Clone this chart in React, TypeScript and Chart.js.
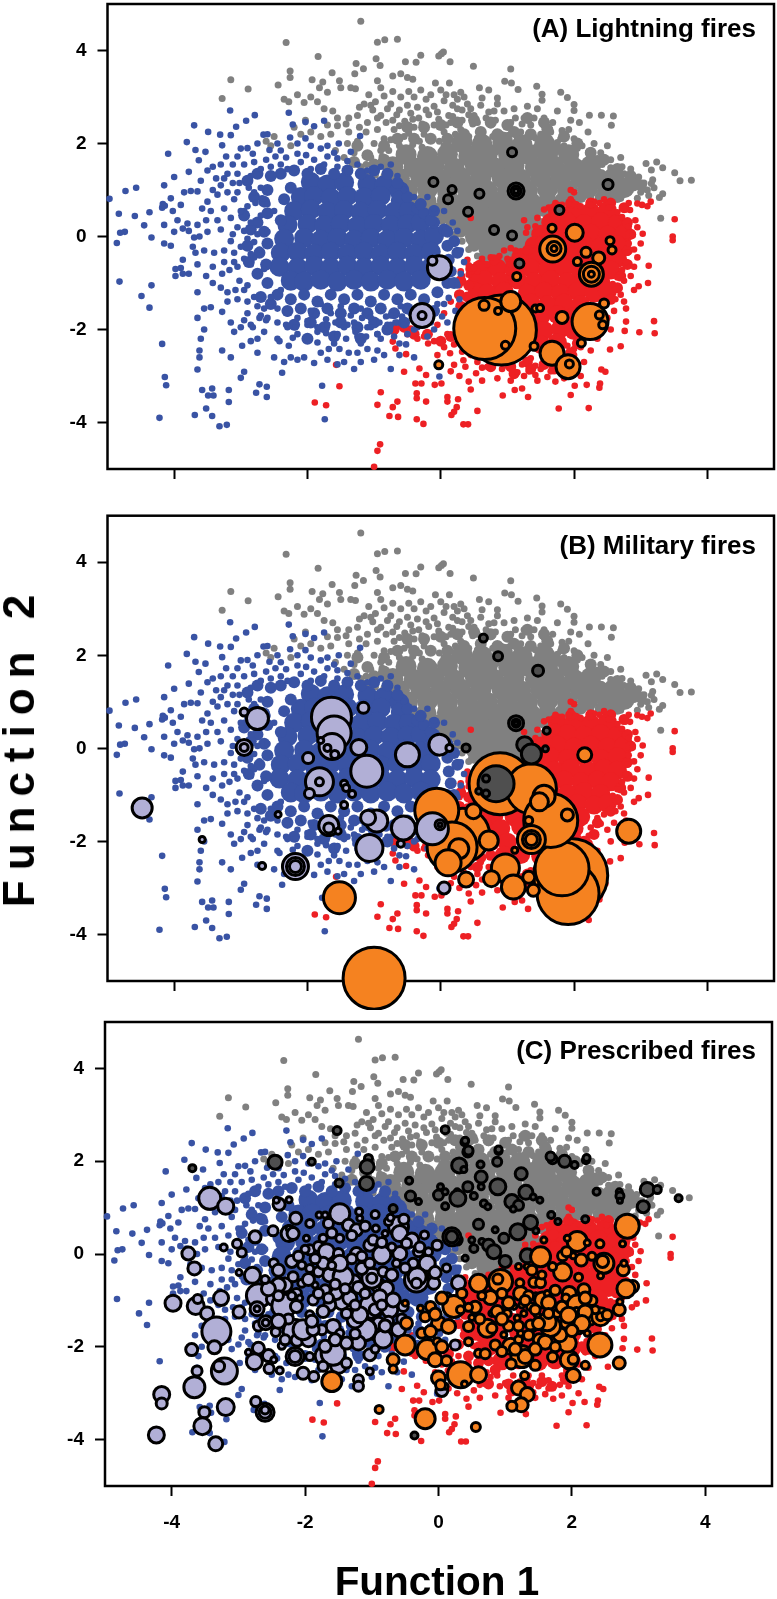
import React, { useEffect, useRef } from "react";
import { Chart, registerables } from "chart.js";
Chart.register(...registerables);

const tickValues = [-4, -2, 0, 2, 4];
const panelTitles = ["(A) Lightning fires", "(B) Military fires", "(C) Prescribed fires"];
const xTitle = "Function 1";
const yTitle = "Function 2";

const grayCore = [.32,2.02,.62,1.98,.93,2.03,1.22,1.97,1.56,1.99,-.52,1.76,-.2,1.72,.1,1.77,.42,1.73,.7,1.78,1.02,1.74,1.31,1.77,1.6,1.74,1.92,1.76,-.72,1.5,-.4,1.48,-.1,1.52,.2,1.47,.52,1.51,.8,1.48,1.1,1.52,1.42,1.48,1.7,1.51,2,1.48,2.25,1.52,-.62,1.25,-.3,1.27,0,1.23,.3,1.27,.6,1.24,.92,1.26,1.2,1.23,1.5,1.27,1.8,1.24,2.1,1.27,2.38,1.23,2.6,1.27,-.5,1,-.2,1.02,.1,.98,.4,1.02,.7,.98,1,1.02,1.3,.98,1.6,1.02,1.9,.99,2.2,1.03,2.5,.98,2.75,1.05,-.22,.75,.1,.77,.35,.73,.6,.77,.85,.73,1.1,.77,1.35,.73,1.6,.72,.1,.5,.35,.52,.6,.48,.85,.52,1.1,.48,1.35,.5,.32,.25,.55,.27,.8,.23,1.05,.27,1.3,.25,.52,0,.75,.03,1,-.02,1.25,.03,.72,-.25,.95,-.23,1.15,-.27,.86,-.45,1];
const grayMid = [-1.3,1.6,-1.1,1.75,-1.25,1.95,-1,1.55,-.85,1.65,-1.15,1.35,-.85,1.95,-.65,2.1,-.4,2.1,-.15,2.1,.1,2.1,.35,2.2,.6,2.25,.85,2.2,1.1,2.25,1.35,2.2,1.6,2.3,1.85,2.15,2.05,2,2.25,1.8,2.45,1.65,-.5,2.35,-.25,2.35,0,2.4,.25,2.45,.5,2.5,.75,2.45,1,2.4,1.3,2.55,1.55,2.45,2.65,1.45,2.85,1.3,3,1.1,2.85,1.1,2.55,1.2,-.45,.8,-.05,.6,.15,.35,.3,.1,.5,-.2,.65,-.45,.95,-.5,1.15,-.15,1.25,.2,1.45,.3,1.55,.55,1.8,.8,2.1,.85,2.4,.85,2.65,.85,-.85,1.2,-.7,1.1,.15,1.88,.55,1.88,.85,1.88,1.15,1.88,1.45,1.88,1.75,1.88];
const graySparse = [-1.2,4.63,-2.32,4.17,-.95,4.18,-.84,4.23,-.65,4.24,-1.84,3.87,.01,3.93,.04,3.97,-.03,3.88,.14,3.76,-.3,3.9,-.37,3.75,-.53,3.76,-.97,3.82,-.91,3.68,-1.27,3.72,-1.16,3.61,-1.29,3.5,.49,3.66,1.05,3.6,-2.26,3.56,-2.26,3.42,-1.63,3.52,-1.93,3.37,-1.77,3.32,-3.15,3.37,-2.89,3.17,-3.28,2.97,-2.44,3.26,.96,3.34,1.06,3.3,1.16,3.16,1.44,3.23,1.52,3.06,1.52,2.93,1.8,3.1,1.9,2.99,2,2.84,2,2.71,2.23,2.61,2.41,2.61,2.59,2.59,2.56,2.39,2.21,2.25,3.76,1.21,3.59,1.2,3.51,1.37,3.33,1.48,3.24,1.6,3.08,1.57,3.16,1.43,3.3,.39,3.33,.92,3.28,.84,3.16,1.14,2.97,1.28,
-.72,3.45,-.6,3.5,-.5,3.42,-.42,3.38,-.95,3.35,-.9,3.2,-1.08,3.05,-1.52,3.35,-1.5,3.2,-1.35,3.2,-1.28,3.18,-1.82,3.2,-1.7,3.1,-1.95,3,-2.15,3.05,-2.28,2.9,-2.35,2.95,-2.05,2.88,-1.85,2.9,-1.75,2.75,-1.62,2.7,-1.55,2.55,-1.25,2.6,-1.15,2.85,-.98,2.9,-.9,2.6,-.8,2.75,-.72,2.5,-.6,3,-.62,2.72,-.45,2.65,-.33,2.55,-.3,3.15,-.22,2.95,-.08,3.3,0,3.15,.13,3.3,.2,3.05,.3,3.1,.35,3,.4,2.85,.25,2.75,.12,2.6,-.1,2.8,.5,2.6,.72,3.15,.58,3.2,.85,2.85,.8,2.7,.95,2.7,1.1,2.75,1.3,2.8,1.25,2.55,1.45,2.75,1.55,2.55,1.75,2.7,1.68,2.45,1.95,2.5,1.92,2.3,2.08,2.45,
-1.1,2.45,-1.22,2.35,-1.38,2.25,-1.55,2.38,-1.7,2.4,-2.03,2.5,-2.2,2.35,-2.5,2.15,-2.62,2.05,-2.55,1.95,-2.25,1.95,-2.1,2.2,-1.95,2.25,-1.8,2.15,-1.65,2.2,-1.4,2,-1.25,2.05,-1.12,2.25,-.95,2.3,-.85,2.1,-.7,2.3,-.55,2.15,-.4,2.35,-.25,2.2,-.1,2.4,.05,2.25,.15,2.45,.3,2.3,.48,2.42,.6,2.25,.75,2.4,.9,2.2,1.05,2.45,1.2,2.25,1.35,2.4,1.5,2.2,1.65,2.25,1.8,2.1,2,2.1,2.12,1.95,2.3,2,2.4,1.8,2.5,1.95,2.55,1.65,2.7,1.7,2.72,1.5,2.85,1.45,2.95,1.2,3.05,1.15,2.9,1.05,3.1,1,3.2,1.05,-1,2,-.9,1.85,-1.05,1.7,-1.3,1.8,-1.45,1.7,-1.58,1.85,-1.2,1.5,-1,1.45,-.9,1.6,-.85,1.3,-.95,1.15,-1.12,1.3,
-1.02,2.72,-.95,2.55,-.82,2.45,-.66,2.62,-.54,2.48,-.42,2.52,-.28,2.42,-.18,2.62,-.03,2.52,.08,2.4,.18,2.58,.32,2.5,.42,2.62,.55,2.45,.68,2.55,.82,2.5,.98,2.42,1.12,2.55,1.22,2.42,1.4,2.55,1.55,2.38,1.62,2.12,1.82,2.28,1.75,2.02,-.75,2.85,-.5,2.82,-.35,2.78,-.22,2.72,-.05,2.68,.05,2.92,.18,2.82,.32,2.72,.45,2.75,.6,2.82,.72,2.68,.62,2.98,.85,2.98,.25,2.95,.08,3.05,-.15,3.05,-.4,3,-.48,3.12,-.85,3.02,-.72,3.12,-1.05,2.82,-1.22,2.78,-1.38,2.55,-1.42,2.42,-.62,2.38,-.48,2.22,-.32,2.05,-.15,2.12,-.02,2.05,.12,2.12,.22,2.2,.42,2.15,.55,2.12,.78,2.15,1.02,2.18,1.15,2.12,1.3,2.15,1.42,2.12,-.75,2.08,-.62,1.95,-.42,1.98,-.28,1.92,.05,1.95,.18,1.92,1.85,1.95,2.05,1.9,2.22,1.82,2.35,1.68,2.42,1.55,2.55,1.48,2.62,1.42,2.75,1.35,2.85,1.25,2.92,1.1,2.82,.95,3,.95,3.12,.88,2.95,.82,3.18,1.22,3.05,1.02,
-.88,1.72,-.78,1.85,-1.12,1.55,-.98,1.32,-.82,1.45,-.78,1.12,-.68,.95,-.55,.82,-.42,.72,-.3,.62,-.18,.55,-.05,.45,.02,.32,.12,.22,.22,.05,.32,-.1,.42,-.28,.55,-.42,.62,-.55,.72,-.6,.85,-.68,.95,-.62,1.08,-.55,1.18,-.42,1.28,-.22,1.42,-.05,1.5,.12,1.58,.3,1.65,.45,1.72,.58,1.85,.72,2.05,.82,2.25,.85,2.5,.78,2.7,.82];

const blueCore = [-1.95,1.17,-1.7,1.12,-1.45,1.16,-1.1,1.13,-.85,1.1,-.62,.98,-2.1,.85,-1.9,.87,-1.65,.83,-1.4,.87,-1.15,.84,-.9,.87,-.6,.78,-2.2,.55,-1.95,.58,-1.7,.53,-1.45,.57,-1.2,.53,-.95,.57,-.7,.53,-.48,.55,-2.3,.25,-2,.27,-1.75,.24,-1.5,.27,-1.25,.23,-1,.27,-.75,.24,-.5,.27,-.3,.3,-2.35,-.05,-2.05,-.03,-1.8,-.07,-1.55,-.03,-1.3,-.07,-1.05,-.03,-.8,-.07,-.55,-.03,-.3,-.07,-.1,.02,-2.4,-.35,-2.15,-.33,-1.9,-.37,-1.65,-.33,-1.4,-.37,-1.15,-.33,-.9,-.37,-.65,-.33,-.4,-.37,-.15,-.33,-2.42,-.65,-2.15,-.67,-1.9,-.63,-1.65,-.67,-1.4,-.63,-1.15,-.67,-.9,-.63,-.65,-.67,-.4,-.63,-.15,-.67,-2.25,-.95,-2.05,-.97,-1.8,-.93,-1.55,-.97,-1.3,-.93,-1.05,-.97,-.8,-.93,-.55,-.97,-.3,-.93];
const blueMid = [-2.6,1,-2.65,.75,-2.6,.5,-2.75,.3,-2.65,.1,-2.6,-.15,-2.72,-.35,-2.62,-.6,-2.75,-.8,-2.6,-1,-2.7,-1.3,-2.55,-1.45,-2.4,1.35,-2.2,1.42,-2,1.35,-1.8,1.45,-1.6,1.35,-1.4,1.42,-1.2,1.35,-1,1.42,-.8,1.35,-.65,1.15,-.5,.85,-.35,.6,-.25,.5,-.1,.3,.05,.15,.1,-.2,.12,-.5,-2.45,-1.25,-2.25,-1.35,-2.05,-1.25,-1.85,-1.4,-1.65,-1.25,-1.45,-1.35,-1.25,-1.25,-1.05,-1.4,-.85,-1.25,-.65,-1.35,-.45,-1.25,-.25,-1.35,-.05,-1.2,.1,-1,-2.3,-1.6,-2.1,-1.55,-1.9,-1.65,-1.7,-1.55,-1.5,-1.65,-1.3,-1.55,-1.1,-1.65,-.9,-1.55,-.7,-1.65,-.5,-1.55,-.3,-1.65,-.1,-1.6,-2.2,-1.9,-1.95,-1.85,-1.75,-1.95,-1.5,-1.85,-1.25,-1.95,-1,-1.85,-.8,-2,-.55,-1.85,-2,-2.2,-1.6,-2.15,-1.2,-2.2,.15,-.75,.2,-1,.25,-.35,.2,-.1,.1,.1,-.15,.35,-.3,.7,-.1,.55,-2.85,.15,-2.9,-.2,-2.88,-.55,-2.95,.45,-2.8,.85,-2.9,1.2,-2.75,1.35,-2.55,1.3,-2.25,1.05,-2.35,.8,-2.4,.35];
const blueSparse = [-4.97,.81,-4.73,.98,-4.57,1.05,-4.83,.49,-4.59,.44,-4.37,.52,-4.74,.1,-4.81,.08,-4.86,-.14,-4.82,-.97,-4.45,.24,-4.34,-.02,-4.49,-1.28,-4.37,-1.53,-4.34,-1.05,-4.18,-2.31,-4.14,-3.02,-4.12,-3.2,-4.22,-3.9,-3.69,-3.84,-3.52,-3.7,-3.43,-3.86,-3.32,-4.08,-3.21,-4.05,-3.58,-3.3,-3.43,-3.27,-3.49,-3.42,-3.41,-3.42,-3.18,-3.3,-3.18,-3.56,-3.65,-2.86,-3,-3.04,-2.95,-2.91,-2.72,-3.18,-2.77,-3.36,-2.61,-3.23,-2.61,-3.45,-2.38,-2.93,-1.78,-3.21,-1.74,-3.93,-4.09,1.78,-3.7,2.39,-3.81,2.03,-4,1.28,-4.15,1.1,-3.78,1.39,-3.68,1.86,-3.63,1.64,-3.53,1.82,-3.49,2.25,-3.31,2.19,-3.28,1.96,-3.15,2.18,-3.07,2.36,-3.16,2.71,-2.92,2.49,-2.79,2.61,-2.66,2.19,-3,1.89,-2.82,1.78,-2.57,1.86,-2.28,2.66,-2.22,2.41,-2.03,2.46,-1.75,2.49,-1.9,2.37,-2.26,2.13,-2.03,2.11,-1.8,1.89,-1.21,2.16,-1.53,2,-2.02,1.75,
-4.18,.62,-4.17,.7,-4.14,.66,-4.05,.82,-4.02,.55,-3.9,.68,-3.85,.95,-3.75,.98,-3.65,.97,-3.6,1.2,-3.95,.35,-4.15,.25,-4,.1,-3.87,.17,-3.78,.12,-3.8,.28,-3.7,-.02,-3.62,0,-3.65,.25,-3.58,.6,-3.5,.75,-3.42,1,-3.37,1.25,-3.3,1.1,-3.2,.95,-3.1,.8,-3.25,.6,-3.35,.35,-3.15,.4,-3.3,.15,-3.05,.2,-3.15,-.1,-3,-.22,-2.9,-.05,-4.15,-.15,-4.05,-.2,-3.72,-.22,-3.68,-.35,-3.87,-.5,-3.9,-.68,-3.98,-.7,-3.98,-.85,-3.87,-.8,-3.78,-.8,-3.65,-.6,-3.52,-.85,-3.42,-1,-3.28,-.8,-3.3,-1.1,-3.17,-.72,-3.05,-.65,-3.02,-.95,-2.95,-1.15,-2.85,-.6,-2.75,-.85,-3.65,-1.2,-3.55,-1.55,-3.45,-1.52,-3.65,-1.75,-3.55,-2,-3.6,-2.2,-3.62,-2.45,-3.62,-2.6,-3.28,-1.62,-3.2,-1.4,-3.05,-1.35,-3.15,-1.85,-3,-1.95,-2.9,-1.65,-2.75,-1.5,-3.28,-2.45,-3.15,-2.6,-3.1,-2.05,-2.98,-2.35,-2.85,-2.25,-2.75,-2.5,-2.65,-2.05,-2.62,-1.8,-2.5,-2.6,-2.45,-1.85,-2.35,-2.7,-2.25,-2.6,-2.15,-2.65,-2.05,-2.6,-1.9,-2.72,-1.8,-2.5,-1.7,-2.65,-1.55,-2.75,-1.45,-2.7,-1.3,-2.85,-1.2,-2.7,-1,-2.65,-.95,-2.45,-.85,-2.55,-.75,-2.85,-.62,-2.55,-.4,-2.6,-.02,-3.01,
-2.9,.65,-2.8,.95,-2.7,1.05,-2.6,.7,-2.85,.3,-2.7,.45,-2.75,.05,-2.6,.1,-2.5,.55,-2.85,1.3,-2.7,1.45,-2.55,1.5,-2.4,1.55,-2.3,1.45,-2.1,1.6,-1.95,1.45,-1.75,1.55,-1.55,1.5,-1.4,1.4,-1.25,1.55,-1.1,1.42,-.9,1.5,-.75,1.55,-.65,1.3,-.55,1,-.4,.85,-.2,.85,-.1,.6,.05,.55,.18,.3,.25,.12,.2,-.1,.3,-.3,.35,-.55,.3,-.8,.25,-1.05,.28,-1.35,.22,-1.6,.1,-1.85,-.1,-2,-.2,-2.15,-.35,-1.95,-.5,-2.1,-.65,-1.85,-.8,-1.9,-.95,-2.1,-1.1,-1.95,-1.25,-2.15,-1.4,-1.9,-1.55,-2.1,-1.7,-1.9,-1.85,-2.05,-2,-1.9,-2.15,-2.1,-2.3,-1.95,-2.45,-2.2,-2.6,-1.75,-2.65,-1.55,-2.8,-1.3,-2.9,-1.05,-2.7,-1.7,-2.55,-1.4,-2.4,-1.15,-2.8,-.45,-2.65,-.7,-2.85,-1.9,-2.75,-2.2,-2.55,-1.3,-2.45,-1.55,-2.3,-1.65,-2.15,-1.75,-1.95,-1.6,-1.8,-1.45,-1.65,-1.65,-1.5,-1.5,-1.35,-1.7,-1.2,-1.55,-1.05,-1.75,-.9,-1.55,-.75,-1.7,-.6,-1.5,-.45,-1.65,-.3,-1.5,-.15,-1.7,-.05,-1.45,-.55,-1.9,-.4,-2,-.75,-1.9,-1.6,-2.3,-1.2,-2.3,-.9,-2.2,
-2.32,-1.9,-2.18,-1.95,-2,-1.82,-1.85,-1.95,-1.72,-1.78,-1.58,-1.85,-1.45,-1.95,-1.3,-1.85,-1.18,-1.75,-1.05,-1.95,-.92,-1.85,-.82,-1.72,-.68,-1.85,-.58,-1.72,-.95,-2.1,-1.12,-2.15,-1.28,-2.05,-1.42,-2.2,-1.55,-2.12,-1.72,-2.08,-1.85,-2.28,-2.22,-2.18,-2.28,-2.35,-2.42,-2.25,-1.68,-2.42,-1.52,-2.42,-1.38,-2.5,-1.25,-2.5,-1.1,-2.42,-.82,-2.05,-.7,-2.15,-.62,-2.3,-.52,-2.32,-.32,-1.92,-.25,-1.75,-.15,-1.85,-.08,-1.62,.02,-1.72,.05,-1.45,.12,-1.32,-.38,-1.8,
-2.95,.55,-2.78,.72,-2.68,.82,-2.95,.12,-2.8,-.12,-2.72,-.28,-2.85,-.38,-2.95,-.48,-3.1,-.35,-2.88,1.05,-3.02,1.15,-3.05,1.35,-3.2,1.35,-3.12,1.55,-2.95,1.55,-2.8,1.6,-2.62,1.65,-2.48,1.72,-2.32,1.7,-2.15,1.78,-1.9,1.65,-1.7,1.72,-1.55,1.68,-1.4,1.62,
-3.35,.9,-3.25,1.25,-3.05,.95,-3,.55,-3.12,.05,-3.25,-.3,-3.1,-.55,-3.25,-.55,-3.2,-1.2,-3.08,-1.15,-2.9,-1.4,-2.95,-1.8,-2.82,-1.95,-2.72,-1.75,-3.4,-.35,-3.45,.55,-3.5,.1,-3.42,-.65,-3.55,-.3,-3.52,.35,-3.12,1.15,-3.3,1.55,-3.42,1.5,-3.5,1.42,-3.22,1.72,-3.05,1.72,-2.9,1.9,-2.75,2,-2.6,2.2,-2.45,2,-2.4,1.85,-2.15,2,-1.95,1.95,-1.7,1.95,-1.6,1.8,-1.35,1.82];

const redCore = [1.75,.55,2,.57,2.25,.53,2.5,.56,1.65,.3,1.9,.32,2.15,.28,2.4,.32,2.65,.28,1.5,.05,1.75,.07,2,.03,2.25,.07,2.5,.03,2.75,.06,1.4,-.2,1.65,-.18,1.9,-.22,2.15,-.18,2.4,-.22,2.65,-.18,1.2,-.45,1.45,-.43,1.7,-.47,1.95,-.43,2.2,-.47,2.45,-.43,2.65,-.47,.6,-.7,.85,-.68,1.1,-.72,1.35,-.68,1.6,-.72,1.85,-.68,2.1,-.72,2.35,-.68,2.55,-.72,.55,-.95,.65,-.93,.9,-.97,1.15,-.93,1.4,-.97,1.65,-.93,1.9,-.97,2.15,-.93,2.4,-.97,.55,-1.2,.7,-1.22,.95,-1.18,1.3,-1.22,1.55,-1.18,1.8,-1.22,2.05,-1.18,2.3,-1.22,2.5,-1.18,.6,-1.45,.8,-1.43,1.1,-1.47,1.35,-1.43,1.6,-1.47,1.85,-1.43,2.1,-1.47,.65,-1.7,.9,-1.72,1.2,-1.68,1.5,-1.72,1.75,-1.68,2,-1.72,.75,-2,1,-2.02,1.3,-1.98,1.55,-2.02,1.8,-1.98,2,-2.02,.95,-2.3,1.2,-2.28,1.5,-2.32,1.75,-2.28];
const redMid = [2.8,.3,2.85,.05,2.8,-.3,2.8,-.6,2.7,-.85,2.65,-1.1,2.55,-1.35,2.35,-1.6,2.3,-1.85,2.2,-2.05,2.05,-2.3,1.95,-2.5,1.9,-2.7,1.55,-2.75,1.3,-2.7,1.05,-2.8,.85,-2.5,.75,-2.3,.6,-2,.55,-1.75,.45,-1.55,.4,-1.3,.42,-1.05,.5,-.85,.45,-.7,.8,-.5,1.05,-.55,1.3,-.3,1.5,-.1,1.6,.15,1.72,.42,1.95,.72,2.25,.72,2.55,.72,2.75,.62,.3,-.95,.28,-1.25,.3,-1.5,.4,-1.75,-.7,-2,-.55,-1.95,-.4,-2.1,-.2,-2.1,0,-2.25,.15,-2.15,.3,-1.95,.45,-2.2,.6,-2.35,.55,-2.55,.75,-2.8,1.1,-2.95,1.35,-2.85,1.7,-2.85];
const redSparse = [3.51,.37,3.48,0,3.48,-.08,3.12,-.63,3.11,-1,2.97,-1.07,3.2,-1.82,3.21,-2.08,2.98,-2.06,2.76,-2.03,2.78,-1.83,2.7,-2.36,2.54,-2.43,2.47,-2.91,2.41,-2.86,2.39,-3.16,2.38,-3.25,2.22,-3.69,1.77,-3.7,1.95,-3.41,2.19,-3.19,2.01,-3.21,1.72,-3.12,1.31,-3.45,.93,-3.42,1.11,-3.3,1.22,-3.27,.55,-3.75,.26,-3.5,.24,-3.67,.16,-3.84,.2,-3.77,.41,-4.04,.34,-4.04,.45,-3.29,.1,-3.45,.1,-3.55,-.26,-4.03,-.36,-3.93,-.64,-3.88,-.77,-3.86,-.72,-3.67,-.65,-3.55,-.36,-3.37,-.36,-3.48,-.22,-3.55,-.95,-3.62,-.9,-3.35,-1.52,-3.22,-1.89,-3.57,-1.72,-3.63,-.91,-4.47,-.95,-4.61,-1,-4.95,-1.57,-2.76,-.55,-2.91,-.32,-2.84,-.22,-2.98,-.09,-3.19,.01,-3.16,-.38,-3.16,-.29,-3.16,-.52,-2.53,-.68,-2.41,-.72,-2.26,-.19,-2.3,.14,-2.51,.2,-2.76,.34,-2.66,.37,-2.8,.53,-2.94,.7,-2.8,3.03,.06,3,-.15,2.95,.2,2.95,.71,3.15,.75,3.1,.65,2.84,.57,2.92,.35,2.8,-.35,2.9,-.65,2.7,-1.25,2.75,-1.4,2.78,-1.55,2.95,-.45,2.85,-.85,2.9,-1.15,2.6,-1.6,2.5,-1.75,2.55,-2,2.35,-2.2,2.25,-2.45,2.15,-2.7,1.95,-2.85,2.1,-3,1.85,-3.05,1.65,-2.9,1.45,-3.1,1.25,-3,1.05,-3.1,.85,-3.05,.78,-2.65,.6,-2.45,.45,-2.35,.3,-2.2,.1,-2.1,-.05,-2.55,-.35,-2.2,-.5,-2.1,-.05,-1.9,.05,-1.65,.15,-1.4,-.6,-1.9,-.4,-1.75,-.7,-2.05,1.9,-2.35,2,-2.55,2.25,-2.1,.45,.4,.55,-.75,.3,-.75,.4,-.5,.7,-.6,.95,-.3,1.25,.35,1.3,.2,1.05,-.25,1.15,-.55,1.95,.8,2,.95,1.95,1,2.3,.75,2.45,.8,2.55,.75,
2.72,.42,2.82,.22,2.88,.02,2.82,-.15,2.9,-.28,2.78,-.55,2.72,-.72,2.75,-.95,2.65,-.88,2.58,-1.02,2.68,-1.12,2.62,-1.35,2.45,-1.42,2.35,-1.5,2.4,-1.62,2.25,-1.7,2.22,-1.88,2.15,-1.95,2.2,-2.12,2.05,-2.22,2.1,-2.38,2,-2.42,1.92,-2.55,1.98,-2.72,1.85,-2.62,1.82,-2.82,1.65,-2.72,1.55,-2.62,1.42,-2.78,1.35,-2.62,1.22,-2.75,1.12,-2.62,1,-2.78,.88,-2.62,.92,-2.85,1.15,-2.92,1.32,-2.9,1.5,-2.85,1.6,-3.02,1.42,-2.98,.72,-2.3,.62,-2.15,.52,-1.98,.42,-1.82,.38,-1.62,.32,-1.48,.3,-1.22,.28,-1.05,.32,-.85,.42,-.82,.42,-.62,.5,-.68,.62,-.48,.75,-.45,.88,-.42,1,-.48,1.12,-.3,1.28,-.32,1.38,-.12,1.28,.08,1.42,.22,1.45,.4,1.55,.58,1.62,.62,1.72,.72,1.82,.68,1.92,.7,2.1,.65,2.25,.68,2.38,.72,2.52,.62,2.65,.52,2.78,.58,2.82,.72,3.02,.68,-.45,-1.98,-.58,-1.82,-.25,-2.15,-.1,-2.25,.05,-2.38,.2,-2.32,.32,-2.48,.45,-2.55,.55,-2.7,.62,-2.82,.72,-2.55,.15,-2.9,.28,-3,.42,-3.12,.62,-3.1];

const dark = "#4f4f4f";
const firesA_gray = [-.11,1.17,4.5,.17,1.01,4,.11,.8,4.5,.58,.92,4.5,.41,.53,4.5,.8,.14,4.5,1.07,.02,4.5,1.07,1.81,4.5,1.13,.98,8,1.13,.98,5,1.13,.98,2.5,2.51,1.12,5,1.78,.57,4.5,1.18,-.58,4.5];
const firesA_lav = [-.02,-.67,12,-.125,-.52,4.5,-.28,-1.7,12,-.28,-1.7,4];
const firesA_orange = [.91,-2.01,35,.66,-1.98,31,1.05,-1.4,10,.65,-1.48,5,.86,-1.6,3.5,.97,-2.34,4,1.68,-.27,13,1.7,-.26,7,1.7,-.26,3,2.01,.08,8.5,1.67,.18,4,2.54,-.09,4,2.57,-.29,4,2.18,-.34,5,2.37,-.46,6,2.05,-.54,4,2.26,-.81,12,2.26,-.81,8,2.26,-.81,3,2.45,-1.44,4.5,1.42,-1.55,3.5,1.49,-1.54,3.5,1.82,-1.74,6,2.24,-1.83,18,2.38,-1.69,4,2.43,-1.9,4,2.11,-2.29,4,1.4,-2.36,4,1.67,-2.51,12,1.91,-2.8,12,1.93,-2.74,4,1.14,-.86,4,-.03,-2.76,4];

const firesB_orange = [1.95,-2.73,37,1.91,-3.12,31,1.82,-2.59,27,.89,-.76,31,1.36,-.87,25,1.65,-1.55,27,.33,-1.87,27,-.06,-1.33,22,.17,-2.12,25,1.55,-1.03,11,1.48,-1.15,9,1.9,-1.43,6,2.16,-.14,7,2.82,-1.78,12,1.36,-1.96,14,1.36,-1.96,9,1.36,-1.96,6,1.32,-1.55,4,.49,-1.35,7.5,.72,-1.98,9.5,.27,-2.16,10,.11,-2.46,13,.97,-2.57,14,.38,-2.82,7.5,.76,-2.8,8,1.09,-2.98,12,1.11,-2.19,3,1.32,-2.77,6,1.39,-3.05,6,-1.52,-3.21,16,-1,-4.94,31];
const firesB_lav = [-4.48,-1.28,10,-2.75,.64,11,-2.95,.78,4,-2.95,.02,8,-2.95,.02,4,-1.64,.67,20,-1.6,.33,17,-1.63,.04,13,-1.8,.17,3,-1.7,.01,3.5,-1.59,-.13,4,-1.23,.02,8,-1.16,.87,5.5,-1.99,-.21,5.5,-1.11,-.49,16,-.5,-.14,12,-.02,.08,10.5,.13,.01,3.5,-1.82,-.72,14,-1.82,-.72,4,-1.97,-.97,5,-1.45,-.76,3.5,-1.42,-.85,3.5,-1.33,-.98,3.5,-1.45,-1.22,3.5,-2.44,-1.42,3,-.96,-1.56,11,-1.09,-1.49,7.5,-1.68,-1.66,10,-1.68,-1.71,5,-1.54,-1.78,3,-.56,-1.71,12,-.125,-1.73,16,-.01,-1.64,5,-.01,-1.64,2,-1.07,-2.14,13.5,-.6,-2.05,3.5,-3.58,-1.96,3,-2.68,-2.53,3.5,-2.18,-2.54,13,-2.18,-2.54,9,-2.18,-2.54,6,.05,-3,6];
const firesB_gray = [.64,2.37,4,.86,1.98,4.5,1.46,1.67,5.5,1.13,.54,7.5,1.13,.54,4,1.13,.54,2,1.59,.38,3.5,1.57,-.01,3,1.26,.08,8,1.36,-.12,10,.38,.01,4,.83,-.76,18,.68,-.65,3.5,.57,-.92,3,.68,-.97,3.5];

const firesC_gray = [.39,2.41,3.5,.44,2.2,5,.9,2.22,3.5,.88,1.99,4.5,.31,1.91,7.5,.63,1.93,3.5,.64,1.66,6,.64,1.45,3,.38,1.82,3,.89,1.45,8,1.24,1.73,6,.44,1.45,5,.28,1.34,3,.29,1.2,8,.53,1.25,3.5,1.31,1.33,7,1.1,1.13,7,1.2,1.05,5,1.12,.97,3,.68,1.09,3.5,.74,1.02,3,1.42,1.23,3,1.52,1.16,3,1.71,2.04,4.5,1.89,2,6,2.04,1.92,3.5,2.21,2.02,3.5,2.37,1.34,3.5,2.71,1.34,3,2.72,1.25,4,2.72,1.15,2.5,3.07,1.02,6,3.13,1.39,7,3.28,1.39,4,3.6,1.2,3.5,1.69,.84,3.5,.6,.64,5,1.38,.68,7,1.19,.48,8,1.79,.7,3,2.2,.75,3.5,1.46,.5,3,.85,.52,3,.23,.37,6,.5,.3,3,.65,.27,3,.75,.19,6,.98,.34,5,.83,.05,7,1,-.16,6,1.33,-.04,7,.53,.12,4,.4,-.09,3,.28,.3,5,-1.05,2.06,4,-1.07,1.88,7,-1.08,1.52,7,-1.9,1.99,3.5,-1.49,1.53,4,-.44,1.58,3.5,-.42,1.25,5,-.3,1.13,3,0,1.27,5,.1,1.34,3,.1,1.03,3.5,.03,1.45,3,.2,.37,9,.2,.37,6,-.68,.98,4,-1.52,2.66,4,.1,2.68,4,.4,2.44,3.5,.45,2.23,4.5,.9,2.25,3.5,1.68,2.1,4.5,2.22,2.07,3.5,-2.45,1.98,7,-3.69,1.85,3.5,-.36,-3.91,3.5];
const firesC_lav = [-3.43,1.2,11,-3.19,1.03,8,-3.75,.01,6.5,-3.66,-.31,6.5,-3.98,-1.06,8,-3.64,-1.12,8.5,-3.61,-.97,4.5,-3.47,-1.28,6.5,-3.26,-.95,7.5,-3.33,-1.67,14.5,-3.36,-2.01,6.5,-3.7,-2.06,6,-3.21,-2.52,13,-3.29,-2.42,5.5,-3.62,-2.52,5,-3.66,-2.87,10.5,-4.15,-3.03,8,-4.15,-3.22,5.5,-3.19,-3.3,8.5,-3.51,-3.41,5.5,-3.54,-3.71,8.5,-4.23,-3.9,8,-3.34,-4.09,7,-2.74,-3.18,5,-2.6,-3.41,9,-2.6,-3.41,6,-2.6,-3.36,4,-2.75,.37,6,-2.48,.5,5,-2.39,1.07,6,-2.43,1.16,3,-2.24,1.17,3,-2.24,.44,8,-2.24,.55,3,-3.22,.14,3.5,-3.02,.22,4.5,-2.95,.03,4.5,-2.79,-.46,8,-2.99,-.4,3,-2.47,-.2,4.5,-2.7,-.9,12,-2.99,-1.25,6,-2.49,-.97,6,-2.32,-1.12,12,-2.72,-1.18,7,-2.72,-1.18,3,-2.7,-1.55,5,-2.59,-1.48,7,-2.59,-1.48,3.5,-2.44,-1.68,4.5,-2.15,-1.67,12,-2.7,-2.03,6,-2.85,-2.12,3,-2.76,-2.32,8,-2.55,-2.19,6,-2.47,-2.28,3,-2.54,-2.47,5,-2.38,-2.51,3.5,-2.35,-1.98,3.5,-2.15,-2.21,9,-2.12,-1.86,6,-2.2,-.16,6,-2.3,-.67,7,-2.4,-.67,7,
-1.5,-2.4,8,-1.7,-2.2,10,-2.55,-.75,7,-1.95,-1.85,7,-.95,-1.7,7,-1.45,-1.05,7,-1.27,-.6,7,-.9,-.68,7,-1.48,.87,10,-1.35,.62,6,-2.14,.77,6,-1.65,.66,5,-1.79,.84,3,-1.7,.84,3,-1.93,.66,4,-1.23,.52,6,-1.18,.77,3,-1.19,.91,3.5,-.6,.59,10,-.58,.44,8,-.75,.7,4,-.94,.55,3.5,-.8,.44,3,-.4,.3,7,-.21,.41,4,-.17,-.2,8,-.02,.19,5,-1.93,.09,5,-1.8,.16,5,-1.68,.05,8,-1.48,.34,4,-1.5,.01,5,-1.73,.34,4,-1.98,.34,3,-1.23,.01,6,-1.03,.19,6,-.85,-.02,9,-.58,.01,7,-.48,.23,5,-2.18,.44,6,-1.63,-.45,7,-1.43,-.49,10,-1.8,-.38,5,-2.05,-.24,4,-1.85,-.67,3,-2.05,-.63,4,-2.18,-.49,5,-1,-.52,10,-1,-.52,5,-1.15,-.31,6,-.78,-.74,7,-.63,-.2,4,-.33,-.56,12,-.32,-.49,9,-.33,-.63,5,-.07,-.63,6,.3,-.62,7,.13,-.92,4,-1.63,-1.1,6,-1.33,-.95,7,-1,-1.13,12,-.9,-1.49,6,-1.1,-1.63,11,-1.25,-1.42,8,-1.58,-1.56,7,-2.13,-.85,5,-2.13,-1.13,6,-1.93,-1.31,4,-1.75,-1.63,5,-1.48,-1.71,4,-2.03,-1.63,10,-.73,-1.2,8,-.6,-1.63,7,-.83,-1.83,9,-1.93,-2.21,4,-1.58,-2.14,12,-1.2,-1.92,7,-1.03,-2.17,6,-2.15,-2.21,6,-2.03,-2.57,6,-1.87,-2.64,5,-1.2,-2.71,5,-1.03,-2.53,3.5,-1.93,-.31,4,-1.73,-.2,6,-1.48,-.2,8,-1.7,-.77,5,-1.53,-.85,6,-1.88,-.99,5,-2.08,-.95,3,-1.73,-1.24,6,-1.38,-1.28,5,-1.18,-1.31,8,-.88,-.92,7,-.68,-.99,7,-.53,-1.13,5,-.83,-.38,5,-.98,.3,5,-.3,.05,5,-.38,-.2,5,-1.88,-1.63,6,-1.7,-1.99,6,-1.38,-1.92,6,-1.73,-2.42,5,-1.38,-2.35,5,.25,-1.96,5,.05,-2.94,6,-1.2,-2.85,5,
-1.6,.45,5,-1.3,.4,5,-1.1,.6,5,-.95,.85,4,-.85,.25,5,-.7,.15,4,-.72,.78,3.5,-.52,.75,5,-.28,.15,5,-.15,.05,4,-.05,-.4,6,.12,-.3,4,-2,.1,4,-2.1,-.05,5,-1.85,-.1,5,-1.6,-.25,4,-1.3,-.1,5,-1.15,-.05,5,-1.03,-.2,5,-.7,-.45,6,-.5,-.3,5,-1.2,-.72,6,-1.4,-.75,5,-1.55,-.65,5,-1.8,-.85,5,-1.95,-.55,6,-1.65,-.95,5,-1.25,-1.1,5,-1.1,-.85,5,-.95,-1.2,6,-.75,-1.45,5,-.85,-1.1,5,-.55,-1.4,5,-1.9,-1.45,6,-2.25,-1.4,5,-2.3,-1.85,5,-1.55,-1.85,6,-1.25,-1.72,5,-.8,-1.55,6,-.95,-2.05,4,-2.6,-.55,4,-2.4,-.35,6,-2.2,-.9,4,-2.4,-1.45,7,-2.4,-.9,5];
const firesC_orange = [2.83,.6,12,2.08,.27,10,1.93,.34,3,2.23,.24,3,2.42,.22,4,2.76,.22,3,1.53,-.06,10,1.86,-.04,5,2.14,-.13,6,2.02,-.04,3,1.86,-.39,9,1.71,-.27,4,1.58,.3,3,.6,-.63,9,.93,-.59,12,.89,-.54,5,.78,-.94,7,1.43,-.61,5,1.53,-.62,5,1.2,-.27,3,1.33,-.27,3,2.48,-.2,10,2.46,-.16,6,2.43,-.47,3,2.77,-.34,6,2.78,-.2,3,2.91,-.7,6,2.81,-.75,9,2.71,-1.2,6,2.72,-1.03,3,2.42,-1.96,12,2.71,-2.35,6,.33,-2.6,13,.6,-2.6,8,.39,-2.8,3,.25,-1.13,10,1.96,-2.28,9,2.02,-2.62,7,2.02,-2.27,5,1.71,-2.22,5,1.93,-1.92,9,1.82,-1.74,7,1.2,-2.89,7,1.33,-3.03,7,1.24,-3.25,7,1.1,-3.28,5,1.29,-2.62,4,1.25,-2.21,11,1.3,-2.21,7,1.09,-2.37,5,1.08,-1.99,8,.85,-1.96,5,.6,-2.14,4,.73,-1.6,9,.8,-1.6,5,.45,-1.56,5,.45,-1.89,4,.5,-1.37,3,.8,-1.28,3,.88,-1.24,6,1.51,-1.85,6,1.41,-1.56,5,1.68,-1.56,10,1.63,-1.46,9,1.2,-1.85,4,.98,-1.74,3,1.23,-1.71,3,1.96,-.85,7,2.18,-.77,6,1.91,-.95,4,2.08,-1.1,10,2.07,-1.26,5,1.91,-1.49,5,2.11,-1.61,5,2.28,-1.42,5,2.23,-1.71,3,2.43,-1.35,9,2.43,-1.35,4,2.53,-1.31,5,1.23,-.85,7,1.13,-1.13,3,1.25,-1.1,3,1.38,-1.13,4,1.46,-.92,4,1.56,-.99,8,1.28,-1.28,3,1.48,-1.31,3,1.18,-1.38,3,1.03,-1.28,4,1.38,-1.53,5,1.63,-.85,3,1.78,-1.28,4,-1.6,-2.75,10,-.5,-1.96,10,-.68,-2.28,6,-.68,-2.48,4,.23,-1.13,11,0,-1.49,7,.15,-1.56,7,.33,-1.2,4,-.48,-1.49,6,-.17,-2.06,10,-.05,-2.28,7,-.25,-1.71,5,-.12,-1.13,5,-.27,-1.17,3,-.5,-1.06,3,-.2,-1.35,5,-.12,-1.67,6,-.02,-1.89,4,0,-2.67,7,.1,-2.85,3,-.2,-3.55,10,-.89,-3.35,4,.56,-3.73,4.5,.03,-2.82,5,
1.35,-.9,5,1.22,-.62,4,1.05,-1.05,6,.95,-.85,5,1.3,-1,5,1.45,-1.2,5,1.65,-1.05,7,1.75,-.78,5,1.85,-1.15,6,1.65,-1.28,5,1.5,-1.5,6,1.2,-1.55,5,1.05,-1.55,5,.95,-1.4,6,1.35,-1.75,5,1.6,-1.9,7,1.75,-2,5,1.45,-2.05,6,1.15,-2.05,6,.95,-2.1,5,2.3,-1,5,2.2,-.95,6,2.35,-1.2,4,2.2,-1.25,7,1.95,-1.32,8,2.15,-1.5,8,2,-1.65,6,1.55,-.45,4,1.4,-.35,5,2.1,-.5,4,2.3,-.05,4,1.92,.05,5,.65,-.9,4,.55,-1.15,6,.45,-1.15,4,.62,-1.4,5,.35,-.85,5,.05,-.95,6,-.05,-1.3,6,.05,-2,6,.12,-2.3,5,.7,-2.15,5,1.45,-2.4,5,2.2,-2.4,4];

const pairs = (a: number[]) => { const o = []; for (let i = 0; i < a.length; i += 2) o.push({ x: a[i], y: a[i + 1] }); return o; };
const triples = (a: number[]) => { const o = []; for (let i = 0; i < a.length; i += 3) o.push({ x: a[i], y: a[i + 1], r: a[i + 2] }); return o; };

const GRAY = "#808080", BLUE = "#3953a4", RED = "#ed2024", ORANGE = "#f58220", LAV = "#b1afd6";
const cloud = (a: number[], color: string, radius: number) => ({ data: pairs(a), backgroundColor: color, borderWidth: 0, radius, clip: false });
const fires = (a: number[], color: string) => ({ data: triples(a), backgroundColor: color, borderColor: "#000", borderWidth: 3, clip: false });
const clouds = () => [
  cloud(grayCore, GRAY, 10.5), cloud(grayMid, GRAY, 6), cloud(graySparse, GRAY, 3.5),
  cloud(redCore, RED, 9.5), cloud(redMid, RED, 5.5), cloud(redSparse, RED, 3.3),
  cloud(blueCore, BLUE, 10), cloud(blueMid, BLUE, 6), cloud(blueSparse, BLUE, 3.3),
];

const panels = [
  { top: 0, h: 505, left: 107.5, right: 774, pt: 4, pb: 469, showX: false, title: panelTitles[0], titleY: 28,
    marks: () => [fires(firesA_gray, "#666"), fires(firesA_lav, LAV), fires(firesA_orange, ORANGE)] },
  { top: 505, h: 505, left: 107.5, right: 774, pt: 10.7, pb: 476, showX: false, title: panelTitles[1], titleY: 545,
    marks: () => [fires(firesB_orange, ORANGE), fires(firesB_lav, LAV), fires(firesB_gray, dark)] },
  { top: 1010, h: 589, left: 105, right: 772, pt: 12, pb: 476, showX: true, title: panelTitles[2], titleY: 1050,
    marks: () => [fires(firesC_gray, dark), fires(firesC_lav, LAV), fires(firesC_orange, ORANGE)] },
];

const frame = {
  id: "frame",
  beforeDatasetsDraw(chart: any) {
    const { ctx, chartArea: a } = chart;
    ctx.save();
    ctx.strokeStyle = "#000";
    ctx.lineWidth = 2.5;
    ctx.strokeRect(a.left, a.top, a.right - a.left, a.bottom - a.top);
    ctx.restore();
  },
};

const noScalePadding = (ax: any) => { ax.paddingTop = 0; ax.paddingBottom = 0; ax.paddingLeft = 0; ax.paddingRight = 0; };

function Panel({ p }: { p: (typeof panels)[number] }) {
  const ref = useRef<HTMLCanvasElement>(null);
  useEffect(() => {
    const font = { family: "Liberation Sans", weight: "bold" as const, size: 19 };
    const chart = new Chart(ref.current!, {
      type: "bubble",
      data: { datasets: [...clouds(), ...p.marks()].reverse() as any },
      plugins: [frame],
      options: {
        animation: false,
        responsive: false,
        events: [],
        layout: { autoPadding: false, padding: { top: p.pt, right: 777 - p.right, left: 0, bottom: 0 } },
        plugins: { legend: { display: false }, tooltip: { enabled: false } },
        scales: {
          x: {
            type: "linear", min: -5, max: 5,
            afterBuildTicks: (ax: any) => { ax.ticks = tickValues.map((value) => ({ value })); },
            afterFit: (ax: any) => { ax.height = p.h - p.pb; noScalePadding(ax); },
            grid: { drawOnChartArea: false, drawTicks: true, tickLength: 10, tickWidth: 2, tickColor: "#000" },
            border: { display: false },
            ticks: { display: p.showX, autoSkip: false, maxRotation: 0, padding: 15, color: "#000", font, callback: (v: any) => String(v) },
          },
          y: {
            type: "linear", min: -5, max: 5,
            afterBuildTicks: (ax: any) => { ax.ticks = tickValues.map((value) => ({ value })); },
            afterFit: (ax: any) => { ax.width = p.left; noScalePadding(ax); },
            grid: { drawOnChartArea: false, drawTicks: true, tickLength: 10, tickWidth: 2, tickColor: "#000" },
            border: { display: false },
            ticks: { autoSkip: false, padding: 11, color: "#000", font, callback: (v: any) => String(v) },
          },
        },
      },
    });
    return () => chart.destroy();
  }, []);
  return (
    <>
      <canvas ref={ref} width={777} height={p.h} style={{ position: "absolute", left: 0, top: p.top, width: 777, height: p.h }} />
      <div style={{ position: "absolute", right: 21, top: p.titleY - 15, lineHeight: "30px", font: "bold 26px 'Liberation Sans'", color: "#000", whiteSpace: "nowrap" }}>{p.title}</div>
    </>
  );
}

export default function App() {
  return (
    <div style={{ position: "absolute", left: 0, top: 0, width: 777, height: 1599, overflow: "hidden", background: "#fff", fontFamily: "'Liberation Sans'" }}>
      {panels.map((p) => <Panel key={p.title} p={p} />)}
      <div style={{ position: "absolute", left: 0, width: 874, textAlign: "center", top: 1559, font: "bold 40.5px/44px 'Liberation Sans'", color: "#000" }}>{xTitle}</div>
      <div style={{ position: "absolute", left: 19, top: 746, transform: "translate(-50%,-50%) rotate(-90deg)", font: "bold 44px/44px 'Liberation Sans'", letterSpacing: 10, color: "#000", whiteSpace: "nowrap" }}>{yTitle}</div>
    </div>
  );
}
